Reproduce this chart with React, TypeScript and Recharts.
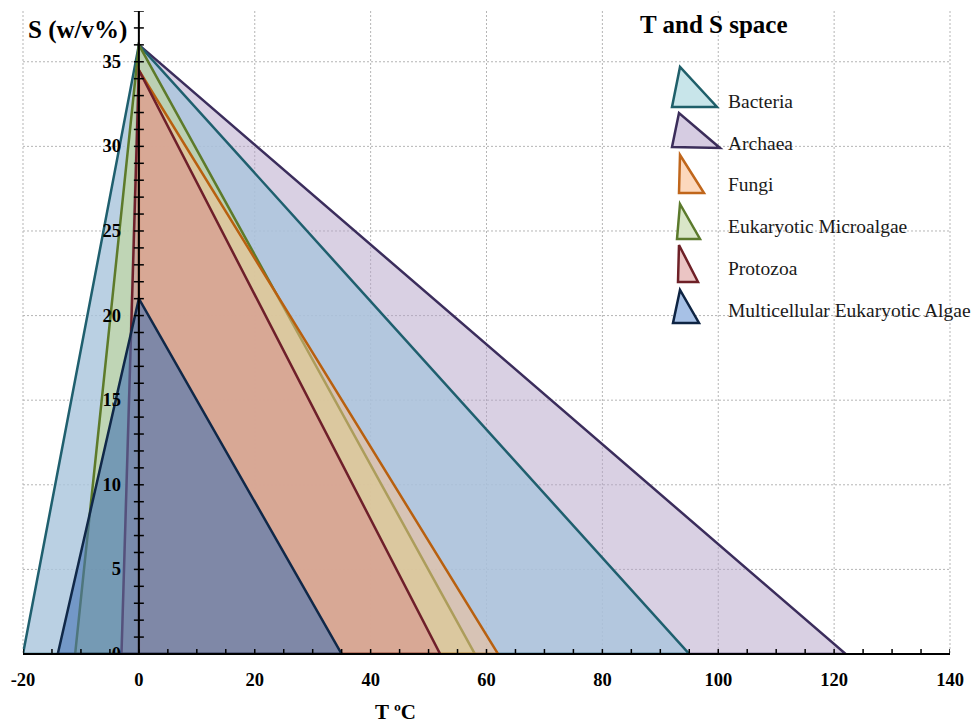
import { ComposedChart, Area, Scatter, XAxis, YAxis, CartesianGrid, ReferenceLine, Legend } from 'recharts'

// triangle vertices per group: [T min, 0], [T at max S, S max], [T max, 0] (closed back to start)
const bacteria = [
  { t: -20, s: 0 },
  { t: 0, s: 36 },
  { t: 95, s: 0 },
  { t: -20, s: 0 },
]
const archaea = [
  { t: -3, s: 0 },
  { t: 0, s: 36 },
  { t: 122, s: 0 },
  { t: -3, s: 0 },
]
const fungi = [
  { t: 0, s: 0 },
  { t: 0, s: 34.5 },
  { t: 62, s: 0 },
  { t: 0, s: 0 },
]
const microalgae = [
  { t: -11, s: 0 },
  { t: 0, s: 36 },
  { t: 58, s: 0 },
  { t: -11, s: 0 },
]
const protozoa = [
  { t: -3, s: 0 },
  { t: 0, s: 34.5 },
  { t: 52, s: 0 },
  { t: -3, s: 0 },
]
const multicellular = [
  { t: -14, s: 0 },
  { t: 0, s: 21 },
  { t: 35, s: 0 },
  { t: -14, s: 0 },
]

const xTicks = [-20, 0, 20, 40, 60, 80, 100, 120, 140]
const xMinorTicks = [-20, -15, -10, -5, 0, 5, 10, 15, 20, 25, 30, 35, 40, 45, 50, 55, 60, 65, 70, 75, 80, 85, 90, 95, 100, 105, 110, 115, 120, 125, 130, 135, 140]
const yLabels = [0, 5, 10, 15, 20, 25, 30, 35]
const yGrid = [5, 10, 15, 20, 25, 30, 35]
const yMinorTicks = [1, 2, 3, 4, 5, 6, 7, 8, 9, 10, 11, 12, 13, 14, 15, 16, 17, 18, 19, 20, 21, 22, 23, 24, 25, 26, 27, 28, 29, 30, 31, 32, 33, 34, 35, 36, 37, 38]

const serif = "'Liberation Serif', 'Times New Roman', serif"

// drawing order (bottom to top)
const series = [
  { name: 'Archaea', data: archaea, fill: '#b4a2c8', opacity: 0.5, stroke: '#3b2d5c' },
  { name: 'Bacteria', data: bacteria, fill: '#a9c4dc', opacity: 0.8, stroke: '#1f5f6e' },
  { name: 'Eukaryotic Microalgae', data: microalgae, fill: '#c3d988', opacity: 0.5, stroke: '#5d7a2a' },
  { name: 'Fungi', data: fungi, fill: '#fbbf8c', opacity: 0.5, stroke: '#b8600f' },
  { name: 'Protozoa', data: protozoa, fill: '#d6878c', opacity: 0.5, stroke: '#6e1f2a' },
  { name: 'Multicellular Eukaryotic Algae', data: multicellular, fill: '#4573b4', opacity: 0.6, stroke: '#102848' },
]

const legendItems = [
  { name: 'Bacteria', fill: '#c8e5ea', stroke: '#1f5f6a', icon: '20,12 12,52 57,52' },
  { name: 'Archaea', fill: '#d6cce2', stroke: '#3b2d5a', icon: '19,58 12,92 60,93' },
  { name: 'Fungi', fill: '#fcd8bd', stroke: '#c0661b', icon: '20,100 19,138 44,138' },
  { name: 'Eukaryotic Microalgae', fill: '#d9e6c8', stroke: '#5b7a2c', icon: '20,149 17,184 40,184' },
  { name: 'Protozoa', fill: '#ebc5c4', stroke: '#6e2027', icon: '19,190 18,227 38,227' },
  { name: 'Multicellular Eukaryotic Algae', fill: '#a7c1e6', stroke: '#0e2443', icon: '20,235 13,268 39,268' },
]

const renderLegend = () => (
  <svg width={314} height={280}>
    {legendItems.map((item, i) => (
      <g key={item.name}>
        <polygon points={item.icon} fill={item.fill} stroke={item.stroke} strokeWidth={2.5} strokeLinejoin="miter" />
        <text x={68} y={53 + i * 41.7} fontFamily={serif} fontSize={19.5} fill="#1a1a1a">
          {item.name}
        </text>
      </g>
    ))}
  </svg>
)

const XTick = (props: any) => {
  const { x, y, payload } = props
  return (
    <text x={x} y={y} dy={32} textAnchor="middle" fontFamily={serif} fontWeight="bold" fontSize={18.5} fill="#000">
      {payload.value}
    </text>
  )
}

const titleStyle = {
  position: 'absolute' as const,
  fontFamily: serif,
  fontWeight: 'bold' as const,
  lineHeight: 1,
  color: '#000',
  whiteSpace: 'nowrap' as const,
}

export default function App() {
  return (
    <div style={{ position: 'absolute', left: 0, top: 0, width: 974, height: 724, background: '#fff' }}>
      <ComposedChart width={974} height={724} margin={{ top: 11, right: 24, left: 23, bottom: 0 }}>
        <CartesianGrid
          stroke="#b5b5b5"
          strokeDasharray="2 2"
          verticalValues={xTicks}
          horizontalValues={yGrid}
        />
        <XAxis
          type="number"
          dataKey="t"
          domain={[-20, 140]}
          ticks={xTicks}
          allowDataOverflow
          height={70}
          tickSize={0}
          tickMargin={0}
          tickLine={false}
          axisLine={{ stroke: '#000', strokeWidth: 2 }}
          tick={<XTick />}
        />
        <YAxis type="number" dataKey="s" domain={[0, 38]} ticks={yGrid} allowDataOverflow hide />
        {series.map((sr) => (
          <Area
            key={sr.name}
            name={sr.name}
            data={sr.data}
            dataKey="s"
            type="linear"
            baseValue={0}
            fill={sr.fill}
            fillOpacity={sr.opacity}
            stroke={sr.stroke}
            strokeWidth={2.5}
            strokeLinejoin="miter"
            dot={false}
            activeDot={false}
            isAnimationActive={false}
          />
        ))}
        <ReferenceLine x={0} stroke="#000" strokeWidth={2} />
        <Scatter
          data={xMinorTicks.map((t) => ({ t, s: 0 }))}
          dataKey="s"
          isAnimationActive={false}
          legendType="none"
          shape={(p: any) => <line x1={p.cx} x2={p.cx} y1={p.cy - 5} y2={p.cy + 5} stroke="#000" strokeWidth={1.5} />}
        />
        <Scatter
          data={yMinorTicks.map((s) => ({ t: 0, s }))}
          dataKey="s"
          isAnimationActive={false}
          legendType="none"
          shape={(p: any) => <line x1={p.cx - 5} x2={p.cx + 5} y1={p.cy} y2={p.cy} stroke="#000" strokeWidth={1.5} />}
        />
        <Scatter
          data={yLabels.map((s) => ({ t: 0, s }))}
          dataKey="s"
          isAnimationActive={false}
          legendType="none"
          shape={(p: any) => (
            <text x={p.cx - 18} y={p.cy + 6} textAnchor="end" fontFamily={serif} fontWeight="bold" fontSize={18.5} fill="#000">
              {p.payload.s}
            </text>
          )}
        />
        <Legend
          layout="horizontal"
          verticalAlign="middle"
          align="center"
          content={renderLegend}
          wrapperStyle={{ left: 660, top: 55, width: 314, height: 280 }}
        />
      </ComposedChart>
      <div style={{ ...titleStyle, left: 28, top: 17, fontSize: 25 }}>S (w/v%)</div>
      <div style={{ ...titleStyle, left: 640, top: 12, fontSize: 25 }}>T and S space</div>
      <div style={{ ...titleStyle, left: 375, top: 702, fontSize: 21 }}>T ºC</div>
    </div>
  )
}
